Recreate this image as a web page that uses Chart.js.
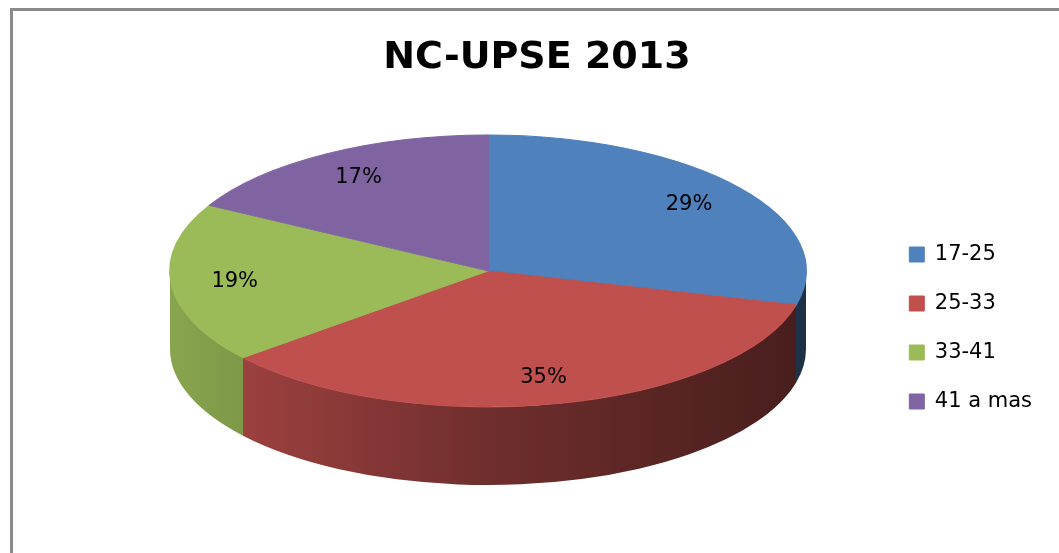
<!DOCTYPE html>
<html>
<head>
<meta charset="utf-8">
<title>NC-UPSE 2013</title>
<script src="https://cdn.jsdelivr.net/npm/chart.js@4.4.1/dist/chart.umd.min.js"></script>
<style>
  html, body { margin: 0; padding: 0; background: #fff; overflow: hidden; }
  #box { position: relative; width: 1059px; height: 553px; overflow: hidden; }
  #frame { position: absolute; left: 10px; top: 8px; width: 1100px; height: 600px;
           border-left: 3px solid #8a8a8a; border-top: 3px solid #8a8a8a; }
  canvas { position: absolute; left: 0; top: 0; }
</style>
</head>
<body>
<div id="box">
  <div id="frame"></div>
  <canvas id="chart" width="1059" height="553"></canvas>
</div>
<script>
// datos del gráfico
const LABELS = ['17-25', '25-33', '33-41', '41 a mas'];
const VALUES = [29, 35, 19, 17];
const COLORS = ['#4F81BD', '#C0504D', '#9BBB59', '#8064A2'];

// tapa del pastel 3D en pantalla (elipse) y grosor del canto
const PIE = { cx: 488, cy: 271, rx: 318, ry: 136, depth: 78 };
const LABEL_RADIUS = 0.8;
const FONT = 'DejaVu Sans';

function shade(hex, f) {
    const n = parseInt(hex.slice(1), 16);
    const r = Math.round(((n >> 16) & 255) * f);
    const g = Math.round(((n >> 8) & 255) * f);
    const b = Math.round((n & 255) * f);
    return `rgb(${r},${g},${b})`;
}

// partes de un arco que caen en la mitad frontal (0..PI en coordenadas de canvas)
function frontParts(a1, a2) {
    const out = [];
    for (let k = -1; k <= 2; k++) {
        const lo = Math.max(a1, 2 * Math.PI * k);
        const hi = Math.min(a2, 2 * Math.PI * k + Math.PI);
        if (hi > lo) out.push([lo, hi]);
    }
    return out;
}

// aplasta el pastel de Chart.js en una elipse y le dibuja el canto
const pie3d = {
    id: 'pie3d',
    beforeDatasetsDraw(chart) {
        const ctx = chart.ctx;
        const arcs = chart.getDatasetMeta(0).data;
        const a0 = arcs[0].getProps(['x', 'y', 'outerRadius'], true);

        arcs.forEach((arc, i) => {
            const { startAngle, endAngle } = arc.getProps(['startAngle', 'endAngle'], true);
            frontParts(startAngle, endAngle).forEach(([lo, hi]) => {
                const g = ctx.createLinearGradient(PIE.cx - PIE.rx, 0, PIE.cx + PIE.rx, 0);
                g.addColorStop(0, shade(COLORS[i], 0.88));
                g.addColorStop(0.5, shade(COLORS[i], 0.58));
                g.addColorStop(1, shade(COLORS[i], 0.37));
                ctx.beginPath();
                ctx.ellipse(PIE.cx, PIE.cy, PIE.rx, PIE.ry, 0, lo, hi);
                ctx.ellipse(PIE.cx, PIE.cy + PIE.depth, PIE.rx, PIE.ry, 0, hi, lo, true);
                ctx.closePath();
                ctx.fillStyle = g;
                ctx.fill();
            });
        });

        ctx.save();
        ctx.translate(PIE.cx, PIE.cy);
        ctx.scale(PIE.rx / a0.outerRadius, PIE.ry / a0.outerRadius);
        ctx.translate(-a0.x, -a0.y);
    },
    afterDatasetsDraw(chart) {
        const ctx = chart.ctx;
        ctx.restore();

        const total = VALUES.reduce((a, b) => a + b, 0);
        ctx.save();
        ctx.font = `21px "${FONT}"`;
        ctx.fillStyle = '#000';
        ctx.textAlign = 'center';
        ctx.textBaseline = 'middle';
        chart.getDatasetMeta(0).data.forEach((arc, i) => {
            const { startAngle, endAngle } = arc.getProps(['startAngle', 'endAngle'], true);
            const mid = (startAngle + endAngle) / 2;
            const x = PIE.cx + PIE.rx * LABEL_RADIUS * Math.cos(mid);
            const y = PIE.cy + PIE.ry * LABEL_RADIUS * Math.sin(mid);
            ctx.fillText(Math.round(VALUES[i] / total * 100) + '%', x, y);
        });
        ctx.restore();
    }
};

new Chart(document.getElementById('chart'), {
    type: 'pie',
    data: {
        labels: LABELS,
        datasets: [{
            data: VALUES,
            backgroundColor: COLORS,
            borderColor: COLORS,
            borderWidth: 1,
            clip: false
        }]
    },
    options: {
        responsive: false,
        animation: false,
        devicePixelRatio: 1,
        layout: { padding: { left: 32, right: 17, top: 8, bottom: 113 } },
        plugins: {
            title: {
                display: true,
                text: 'NC-UPSE 2013',
                color: '#000',
                font: { family: FONT, size: 38, weight: 'bold', lineHeight: 1.2 },
                padding: { top: 27, bottom: 10 }
            },
            legend: {
                position: 'right',
                align: 'end',
                labels: {
                    color: '#000',
                    font: { family: FONT, size: 21 },
                    boxWidth: 15,
                    boxHeight: 15,
                    padding: 28
                }
            },
            tooltip: { enabled: false }
        }
    },
    plugins: [pie3d]
});
</script>
</body>
</html>
